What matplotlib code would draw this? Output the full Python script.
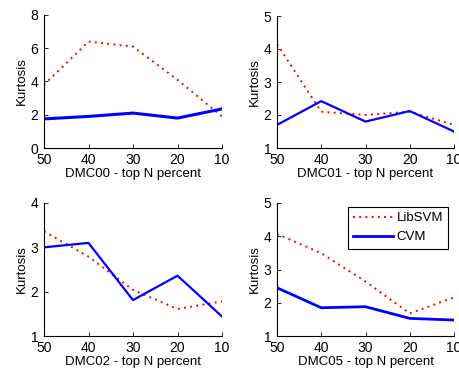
import matplotlib
matplotlib.use("Agg")
import matplotlib.pyplot as plt

plt.rcParams['font.family'] = ['Liberation Sans', 'DejaVu Sans']

x = [50, 40, 30, 20, 10]
datasets = ["DMC00", "DMC01", "DMC02", "DMC05"]
libsvm = {
    "DMC00": [3.8, 6.4, 6.1, 4.1, 1.9],
    "DMC01": [4.15, 2.1, 2.0, 2.1, 1.7],
    "DMC02": [3.36, 2.79, 2.04, 1.61, 1.78],
    "DMC05": [4.07, 3.49, 2.64, 1.68, 2.16],
}
cvm = {
    "DMC00": [1.75, 1.9, 2.1, 1.8, 2.35],
    "DMC01": [1.7, 2.42, 1.8, 2.12, 1.5],
    "DMC02": [3.0, 3.1, 1.81, 2.36, 1.44],
    "DMC05": [2.45, 1.85, 1.88, 1.53, 1.48],
}
ylims = {"DMC00": (0, 8), "DMC01": (1, 5), "DMC02": (1, 4), "DMC05": (1, 5)}
yticks = {"DMC00": [0, 2, 4, 6, 8], "DMC01": [1, 2, 3, 4, 5],
          "DMC02": [1, 2, 3, 4], "DMC05": [1, 2, 3, 4, 5]}
cvm_lw = {"DMC00": 2.2, "DMC01": 1.6, "DMC02": 1.6, "DMC05": 2.0}

fig = plt.figure(figsize=(4.59, 3.69), dpi=100)
W, H = 459, 369
positions = {
    "DMC00": (44, 15, 222, 148),
    "DMC01": (277, 16, 454, 148),
    "DMC02": (44, 203, 222, 336),
    "DMC05": (277, 203, 454, 336),
}
for name in datasets:
    l, t, r, b = positions[name]
    ax = fig.add_axes([l / W, (H - b) / H, (r - l) / W, (b - t) / H])
    ax.plot(x, libsvm[name], color='red', linestyle=(0, (1, 2.2)), lw=1.4, label='LibSVM')
    ax.plot(x, cvm[name], color='#0000ff', lw=cvm_lw[name], label='CVM')
    ax.set_xlim(50, 10)
    ax.set_xticks(x)
    ax.set_ylim(*ylims[name])
    ax.set_yticks(yticks[name])
    for s in ['top', 'right']:
        ax.spines[s].set_visible(False)
    for s in ['left', 'bottom']:
        ax.spines[s].set_linewidth(0.8)
    ax.tick_params(direction='in', length=3, labelsize=10, width=0.6)
    ax.tick_params(axis='x', pad=3.5)
    ax.tick_params(axis='y', pad=4)
    ax.set_xlabel(f"{name} - top N percent", fontsize=9.5, labelpad=1)
    ax.set_ylabel("Kurtosis", fontsize=9.5, labelpad=2)
    if name == "DMC05":
        leg = ax.legend(loc='upper right', bbox_to_anchor=(0.99, 1.0), fontsize=9.5,
                        fancybox=False, edgecolor='black', framealpha=1,
                        handlelength=3.0, borderpad=0.4, labelspacing=0.5,
                        handletextpad=0.3, borderaxespad=0.3)
        leg.get_frame().set_linewidth(0.8)

fig.savefig("out.png", dpi=100)
